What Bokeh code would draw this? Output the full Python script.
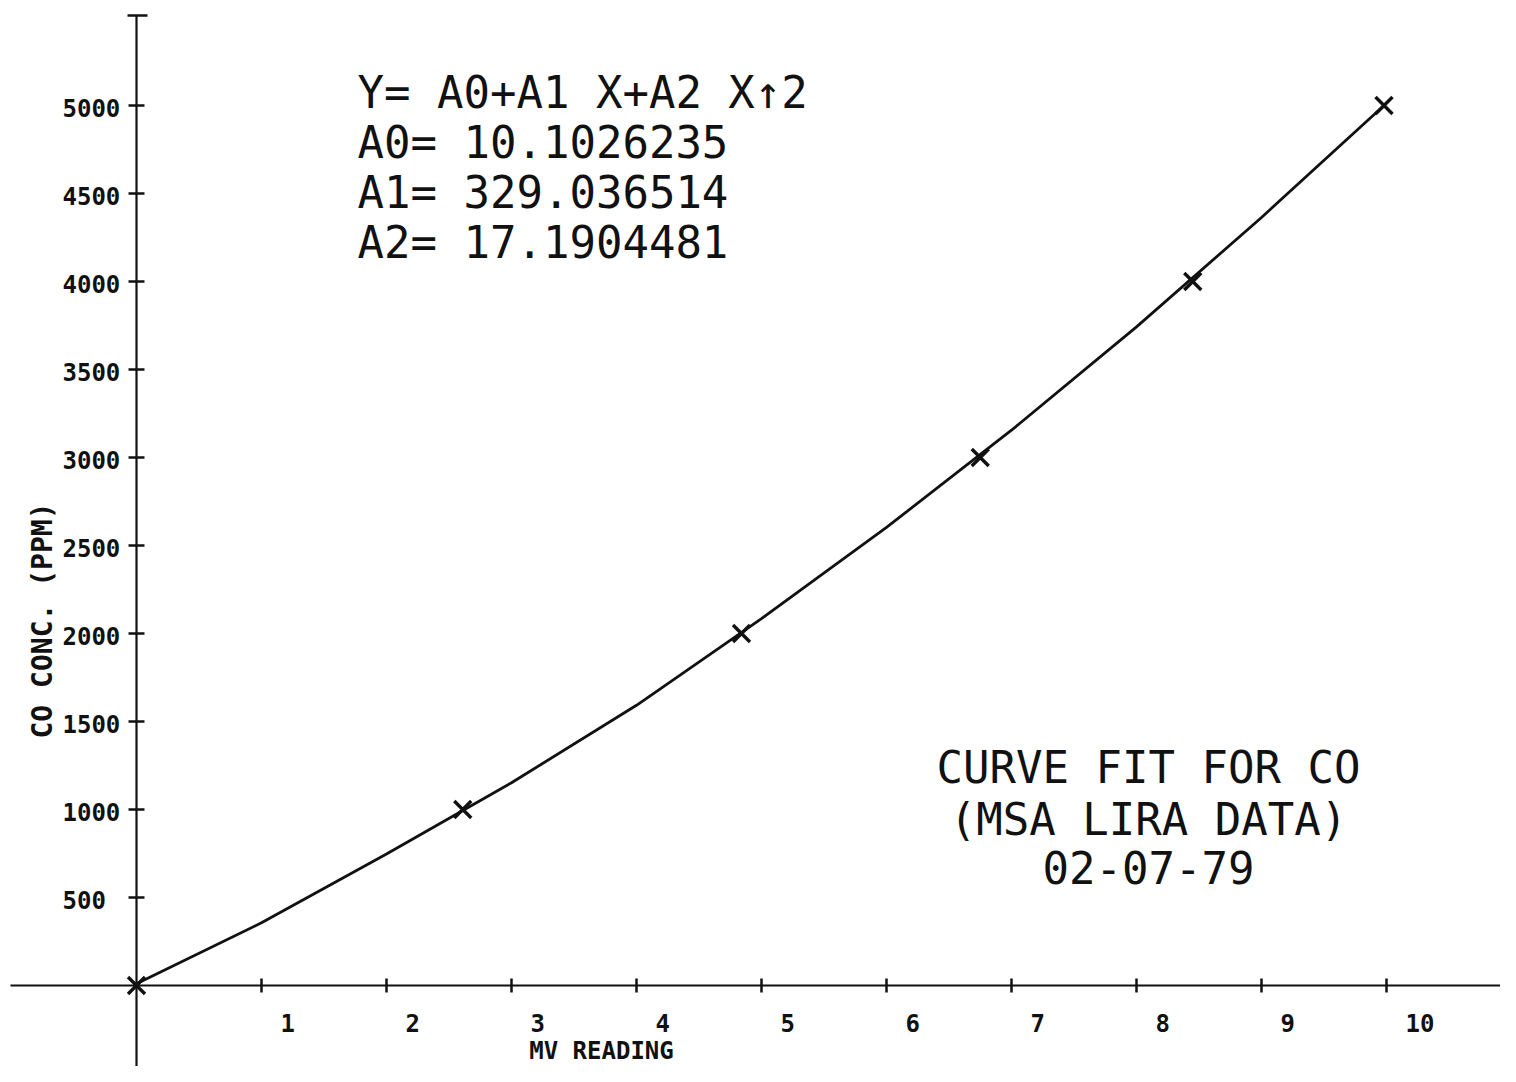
import math
from bokeh.plotting import figure
from bokeh.models import Range1d
from bokeh.core.properties import value
from bokeh.embed import file_html
from bokeh.resources import INLINE

# ---- data ----
mv_points = [0.0, 2.61, 4.84, 6.75, 8.45, 9.98]
ppm_points = [0, 1000, 2000, 3000, 4000, 5000]

curve_mv = [0, 1, 2, 3, 4, 5, 6, 7, 8, 9, 9.98]
curve_ppm = [10, 356, 747, 1152, 1592, 2085, 2603, 3155, 3742, 4364, 5000]

x_ticks = [1, 2, 3, 4, 5, 6, 7, 8, 9, 10]
x_tick_labels = ["1", "2", "3", "4", "5", "6", "7", "8", "9", "10"]
y_ticks = [500, 1000, 1500, 2000, 2500, 3000, 3500, 4000, 4500, 5000]
y_tick_labels = ["500", "1000", "1500", "2000", "2500", "3000", "3500", "4000", "4500", "5000"]

eq_lines = ["Y= A0+A1 X+A2 X\u21912", "A0= 10.1026235", "A1= 329.036514", "A2= 17.1904481"]
note_lines = ["CURVE FIT FOR CO", "(MSA LIRA DATA)", "02-07-79"]
x_label = "MV READING"
y_label = "CO CONC. (PPM)"

# ---- layout (picture pixels -> data) ----
W, H = 1500, 1066
OX, OY = 136.0, 985.0      # picture position of origin
SX, SY = 125.0, 0.176      # px per unit


def dx(px):
    return (px - OX) / SX


def dy(py):
    return (OY - py) / SY


X0 = dx(0)
X1 = X0 + W / SX
Y1 = dy(0)
Y0 = Y1 - H / SY

p = figure(width=W, height=H, x_range=Range1d(X0, X1), y_range=Range1d(Y0, Y1),
           output_backend="svg", toolbar_location=None,
           x_axis_type=None, y_axis_type=None, min_border=0,
           outline_line_color=None, background_fill_color="white",
           border_fill_color="white")

BLACK = "#111111"
MONO = value("DejaVu Sans Mono")

# axes lines
p.segment(x0=[dx(10), 0], y0=[0, dy(1075)], x1=[11, 0], y1=[0, dy(15)],
          line_color=BLACK, line_width=2.2)
# top cap of y axis
p.segment(x0=[dx(127)], y0=[dy(15)], x1=[dx(147)], y1=[dy(15)], line_color=BLACK, line_width=2.5)

# x tick marks
th = 7 / SY
p.segment(x0=x_ticks + [11], y0=[-th] * 11, x1=x_ticks + [11], y1=[th] * 11,
          line_color=BLACK, line_width=2.5)
# y tick marks
tw = 8 / SX
p.segment(x0=[-tw] * len(y_ticks), y0=y_ticks, x1=[tw] * len(y_ticks), y1=y_ticks,
          line_color=BLACK, line_width=2.5)

# tick labels
p.text(x=[t + 19 / SX for t in x_ticks], y=[-37 / SY] * len(x_ticks), text=x_tick_labels,
       text_align="left", text_baseline="alphabetic", text_font=MONO,
       text_font_style="bold", text_font_size="24px", text_color=BLACK)
p.text(x=[dx(62)] * len(y_ticks), y=[v - 2 / SY for v in y_ticks], text=y_tick_labels,
       text_align="left", text_baseline="alphabetic", text_font=MONO,
       text_font_style="bold", text_font_size="24px", text_color=BLACK)

# fitted curve and measured points
p.line(curve_mv, curve_ppm, line_color=BLACK, line_width=2.8)
p.scatter(mv_points, ppm_points, marker="x", size=24, line_width=3.4, line_color=BLACK)

# equation block
p.text(x=[dx(357)] * 4, y=[dy(92), dy(142), dy(192), dy(242)], text=eq_lines,
       text_align="left", text_baseline="alphabetic", text_font=MONO,
       text_font_size="44px", text_color=BLACK)

# note block
p.text(x=[dx(1148)] * 3, y=[dy(767), dy(819), dy(867)], text=note_lines,
       text_align="center", text_baseline="alphabetic", text_font=MONO,
       text_font_size="44px", text_color=BLACK)

# axis titles
p.text(x=[dx(601)], y=[dy(1050)], text=[x_label], text_align="center",
       text_baseline="alphabetic", text_font=MONO, text_font_style="bold",
       text_font_size="24px", text_color=BLACK)
p.text(x=[dx(42)], y=[dy(620)], text=[y_label], angle=math.pi / 2, text_align="center",
       text_baseline="alphabetic", text_font=MONO, text_font_style="bold",
       text_font_size="28px", text_color=BLACK)

open("out.html", "w").write(file_html(p, INLINE))
